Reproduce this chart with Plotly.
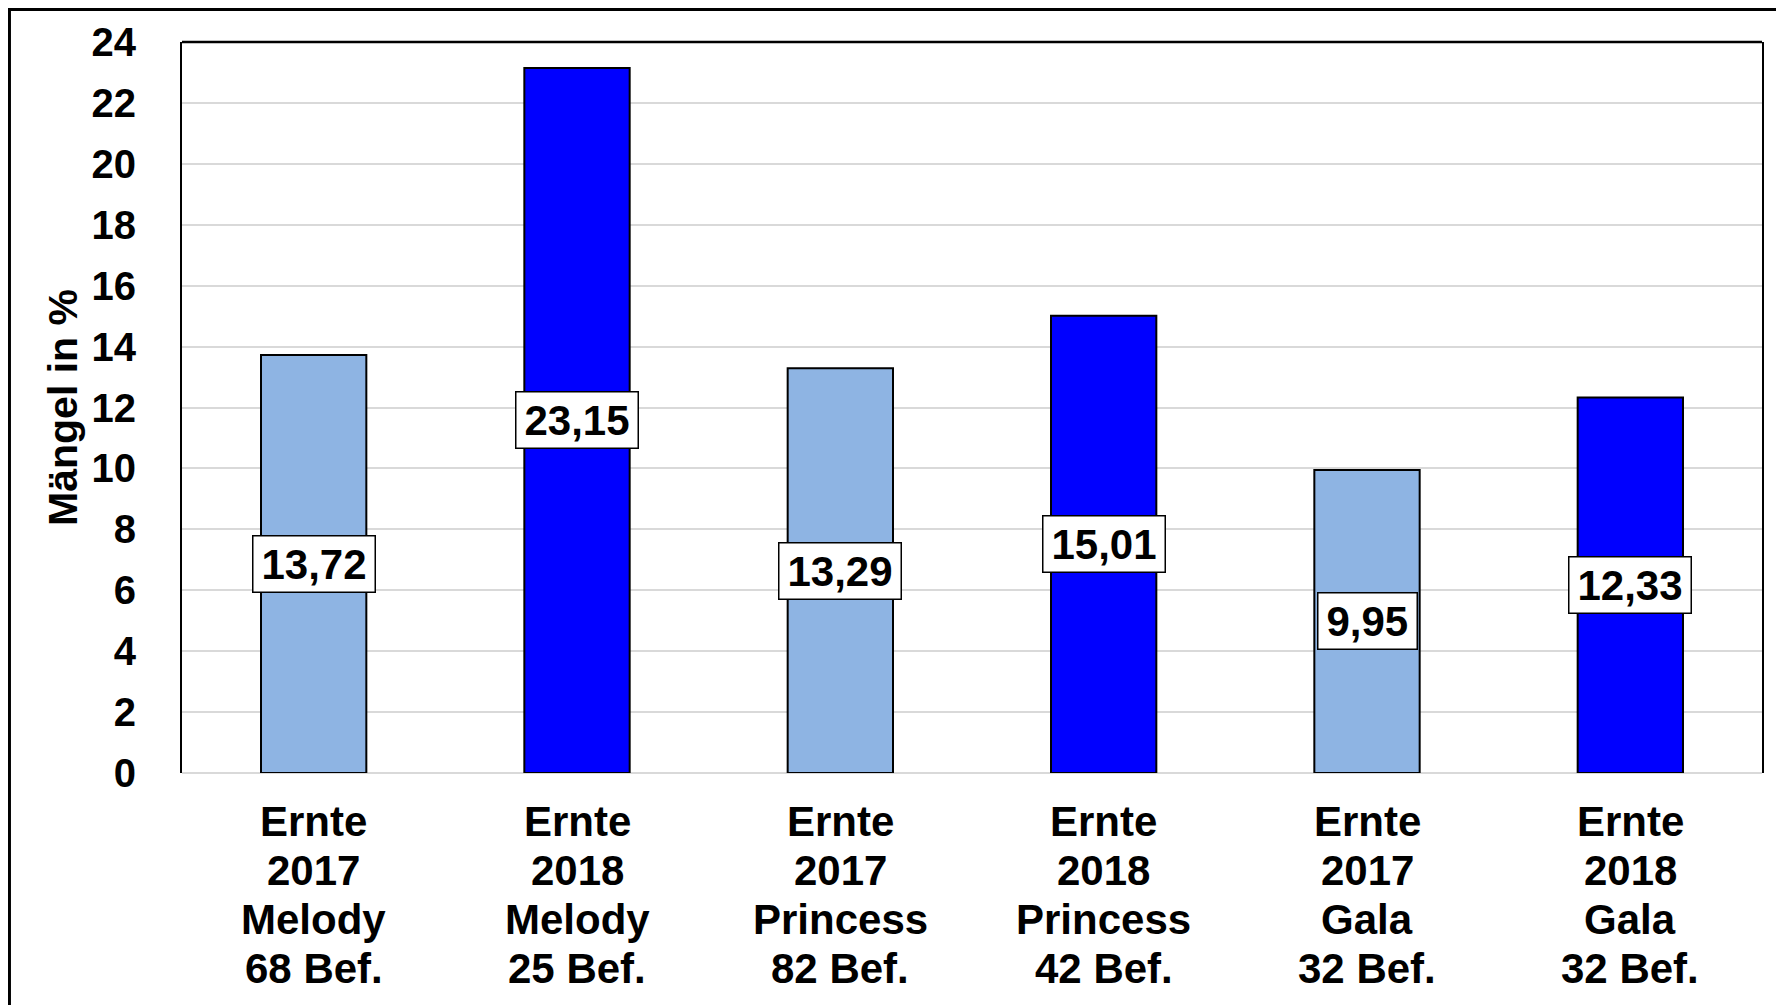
import plotly.graph_objects as go

categories = ["Melody 2017", "Melody 2018", "Princess 2017", "Princess 2018", "Gala 2017", "Gala 2018"]
label_lines = [
    ["Ernte", "2017", "Melody", "68 Bef."],
    ["Ernte", "2018", "Melody", "25 Bef."],
    ["Ernte", "2017", "Princess", "82 Bef."],
    ["Ernte", "2018", "Princess", "42 Bef."],
    ["Ernte", "2017", "Gala", "32 Bef."],
    ["Ernte", "2018", "Gala", "32 Bef."],
]
values = [13.72, 23.15, 13.29, 15.01, 9.95, 12.33]
years = [2017, 2018, 2017, 2018, 2017, 2018]
y_ticks = [0, 2, 4, 6, 8, 10, 12, 14, 16, 18, 20, 22, 24]

color_map = {2017: "#8EB4E3", 2018: "#0000FF"}
bar_colors = [color_map[y] for y in years]

FONT = "Liberation Sans, Arial, sans-serif"
LABEL_SIZE = 42

fig = go.Figure()
fig.add_trace(go.Bar(
    x=categories, y=values,
    marker=dict(color=bar_colors, line=dict(color="#000000", width=2)),
    width=0.40,
    hoverinfo="skip",
))

annotations = []
for c, v in zip(categories, values):
    s = f"{v:.2f}".replace(".", ",")
    n_digits = sum(ch.isdigit() for ch in s)
    text_w = n_digits * 0.556 * LABEL_SIZE + 0.278 * LABEL_SIZE
    annotations.append(dict(
        x=c, y=v / 2, xref="x", yref="y",
        text="<b>" + s + "</b>",
        showarrow=False,
        font=dict(family=FONT, size=LABEL_SIZE, color="#000000"),
        bgcolor="#FFFFFF", bordercolor="#000000", borderwidth=1.5, borderpad=4,
        width=text_w + 8, align="center",
        xanchor="center", yanchor="middle",
    ))
for c, lines in zip(categories, label_lines):
    for i, t in enumerate(lines):
        annotations.append(dict(
            x=c, y=0, xref="x", yref="y",
            text="<b>" + t + "</b>",
            showarrow=False,
            font=dict(family=FONT, size=42, color="#000000"),
            xanchor="center", yanchor="middle",
            yshift=-(48 + 49.3 * i),
        ))

shapes = [
    # top border of plot area
    dict(type="line", xref="paper", yref="paper", x0=0, x1=1, y0=1, y1=1,
         line=dict(color="#000000", width=2.5)),
    # outer frame (left and top edges visible, right/bottom run off the picture)
    dict(type="rect", xref="paper", yref="paper", x0=-0.1092, x1=1.05, y0=-0.45, y1=1.0445,
         line=dict(color="#000000", width=3)),
]

fig.update_layout(
    width=1776, height=997,
    margin=dict(l=174, r=22, t=34, b=232),
    paper_bgcolor="#FFFFFF", plot_bgcolor="#FFFFFF",
    showlegend=False,
    bargap=0.6,
    font=dict(family=FONT, color="#000000"),
    annotations=annotations,
    shapes=shapes,
    xaxis=dict(showticklabels=False, showgrid=False, showline=False, ticks="",
               zeroline=False),
    yaxis=dict(
        range=[0, 24], tickvals=y_ticks,
        ticktext=["<b>%d</b>" % t for t in y_ticks],
        tickfont=dict(family=FONT, size=40, color="#000000"),
        showgrid=True, gridcolor="#D9D9D9", gridwidth=2,
        zeroline=True, zerolinecolor="#D9D9D9", zerolinewidth=2,
        showline=True, linecolor="#000000", linewidth=2, mirror=True,
        ticks="", ticklabelstandoff=36,
        title=dict(text="<b>Mängel in %</b>", font=dict(family=FONT, size=41, color="#000000"),
                   standoff=1),
    ),
)

fig.write_html("out.html")
